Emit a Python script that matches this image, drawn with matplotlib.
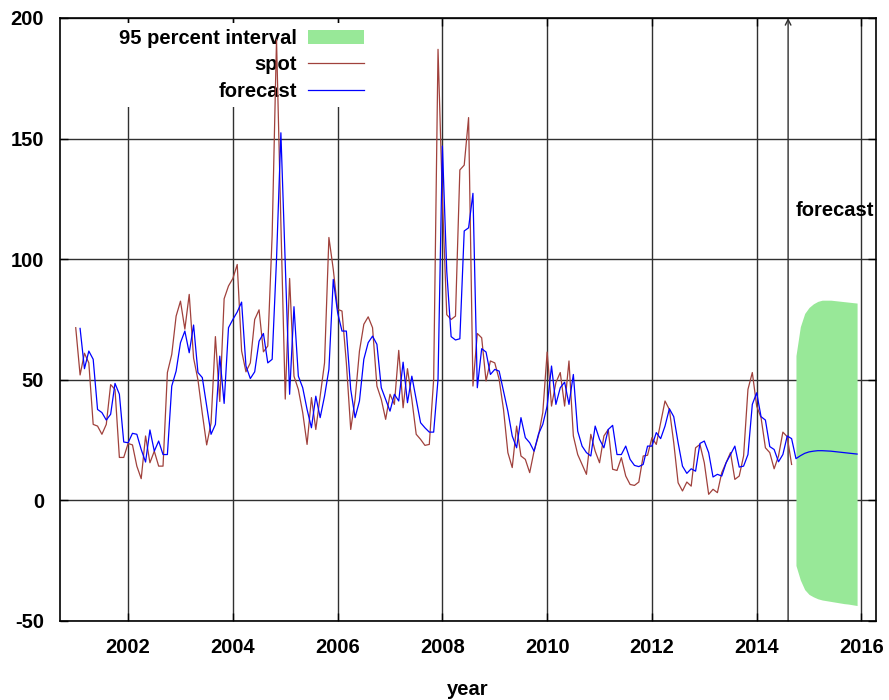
import numpy as np
import matplotlib.pyplot as plt

# monthly spot values, Jan 2001 onwards
spot = [71.6, 52, 61, 57, 31.5, 30.8, 27.4, 31.5, 48, 46, 17.8, 17.8,
        23.6, 23, 14.2, 9, 26.7, 15.6, 20.4, 14.2, 14.2, 53, 60.5, 76.4,
        82.6, 71, 85.4, 59, 50, 36, 23, 32, 67.9, 41, 83.6, 88.9,
        92, 97.8, 62, 53.3, 57, 75, 79, 61.6, 64, 110, 191, 115,
        42, 92, 51.5, 46, 36.4, 23.2, 42.6, 29.4, 43.2, 57, 109, 95.8,
        79.2, 78.5, 57, 29.4, 41.9, 61.9, 73, 76.1, 71.6, 47.4, 41.9, 33.6,
        44, 39.8, 62.2, 38.4, 54.6, 41.9, 27.4, 25.3, 22.8, 23.2, 50.2, 187,
        125, 77, 75, 76.4, 137, 139, 158.7, 47.4, 69.2, 67.4, 49.5, 57.8,
        57, 50.2, 37.7, 19.8, 13.6, 30.8, 18.4, 17, 11.5, 20.4, 26.7, 36.4,
        61.5, 39.1, 48.8, 53, 39.1, 57.8, 26.7, 19, 14.9, 10.8, 27.4, 20.4,
        15.6, 26.7, 29.4, 12.9, 12.4, 17.7, 10.1, 6.6, 6.2, 7.6, 18.4, 18.7,
        26, 23.2, 32.2, 41.2, 37.7, 23.9, 7.3, 3.9, 7.6, 5.9, 21.8, 23.2,
        15.6, 2.5, 4.6, 3.2, 11.5, 15.6, 19.8, 8.7, 10.1, 18.4, 46, 53,
        39.1, 34.3, 21.8, 19.8, 13.1, 18.4, 28.3, 26.4, 14.9]

# one-step forecasts, Feb 2001 onwards
fitted = [71.3, 54.6, 61.9, 58.5, 37.7, 36.4, 33.3, 35.7, 48.5, 44, 24.2,
          23.9, 27.8, 27.4, 21.1, 15.9, 29.2, 20.4, 24.6, 19, 19, 47.4, 53.6,
          65.4, 70.2, 61.2, 72.7, 53, 50.9, 39.1, 27.4, 31.5, 59.8, 40.2, 71.6,
          75, 78.1, 82.2, 55.7, 50.5, 53.3, 66, 69.2, 57, 58.5, 100, 152.4,
          98, 44, 80.3, 51.5, 46.7, 37.7, 30.1, 43.2, 34.3, 43.2, 54.3, 91.6,
          77.8, 70.2, 70.2, 46, 34.3, 41.2, 58.5, 65.4, 68.1, 64.7, 46.7, 41.9,
          37, 44, 41.2, 57.3, 40.5, 51.5, 41.9, 32.2, 30.1, 28.3, 28.3, 50.2,
          146.9, 95, 67.9, 66.5, 67, 111.7, 113, 127.3, 46.7, 62.9, 61.5, 52.2,
          54.3, 53.6, 45.3, 37, 26.7, 21.8, 34.3, 26, 23.9, 20.4, 27.4, 31.5,
          39.1, 55.7, 39.8, 46.7, 49, 39.8, 52.2, 28.7, 22.5, 19.8, 18.4, 30.8,
          25.3, 21.8, 29.4, 31.1, 19, 19, 22.5, 17, 14.5, 14, 14.9, 22.5,
          22.5, 28.1, 25.6, 30.8, 38, 34.7, 23.9, 14.2, 11.2, 13.1, 12.1, 23.6,
          24.6, 19.8, 9.7, 10.8, 10.1, 15.6, 19, 22.5, 13.8, 14.2, 19, 39.8,
          44.6, 34.7, 33.3, 22.3, 21.1, 16, 19, 26.7, 25.6]

# out-of-sample forecast with 95% band
fc_mean = [17.3, 18.5, 19.5, 20.1, 20.4, 20.6, 20.6, 20.5, 20.4, 20.2,
           20, 19.8, 19.6, 19.4, 19.2]
fc_upper = [60, 72, 77.5, 80, 81.5, 82.5, 83, 83, 83, 82.8, 82.6, 82.4,
            82.2, 82, 81.8]
fc_lower = [-27, -33, -37, -39, -40, -40.8, -41.3, -41.6, -41.9, -42.2,
            -42.5, -42.8, -43, -43.3, -43.6]

start_year = 2001
forecast_origin = 2014.6
xticks = [2002, 2004, 2006, 2008, 2010, 2012, 2014, 2016]
yticks = [-50, 0, 50, 100, 150, 200]

plt.rcParams['font.family'] = ['Liberation Sans', 'DejaVu Sans']
plt.rcParams['font.weight'] = 'bold'
plt.rcParams['font.size'] = 14.5
plt.rcParams['axes.unicode_minus'] = False

t_spot = start_year + np.arange(len(spot)) / 12
t_fit = start_year + (1 + np.arange(len(fitted))) / 12
t_fc = t_fit[-1] + (1 + np.arange(len(fc_mean))) / 12

fig = plt.figure(figsize=(8.89, 7), dpi=100)
ax = fig.add_axes([0.0675, 0.1129, 0.918, 0.8614])

ax.fill_between(t_fc, fc_lower, fc_upper, color='#98e898', lw=0,
                label='95 percent interval', zorder=2)
ax.plot(t_spot, spot, color='#a0413c', lw=0.9, label='spot', zorder=3)
ax.plot(np.concatenate([t_fit, t_fc]), np.concatenate([fitted, fc_mean]),
        color='#0000ff', lw=0.9, label='forecast', zorder=3)

# vertical arrow marking the forecast origin
ax.annotate('', xy=(forecast_origin, 200), xytext=(forecast_origin, -50),
            arrowprops=dict(arrowstyle='->', color='#303030', lw=1,
                            mutation_scale=10, shrinkA=0, shrinkB=0),
            zorder=2.5)
ax.text(2014.74, 120, 'forecast', fontweight='bold', va='center', ha='left')

ax.set_xlim(2000.70, 2016.28)
ax.set_ylim(-50, 200)
ax.set_xticks(xticks)
ax.set_yticks(yticks)
ax.set_axisbelow(True)
ax.grid(True, color='#303030', lw=1)
ax.tick_params(direction='in', top=True, right=True, length=6, width=1)
ax.tick_params(axis='x', pad=12)
ax.tick_params(axis='y', pad=11.5)
for s in ax.spines.values():
    s.set_linewidth(1.2)
ax.set_xlabel('year', fontweight='bold', labelpad=17)

leg = ax.legend(loc='upper right', bbox_to_anchor=(0.380, 0.992),
                borderaxespad=0, markerfirst=False, frameon=True,
                fancybox=False, edgecolor='none', facecolor='white',
                framealpha=1, handlelength=2.8, handletextpad=0.55,
                labelspacing=0.37, borderpad=0.3,
                prop={'weight': 'bold', 'size': 14.5})
leg.set_zorder(1)

fig.savefig('out.png', dpi=100)
